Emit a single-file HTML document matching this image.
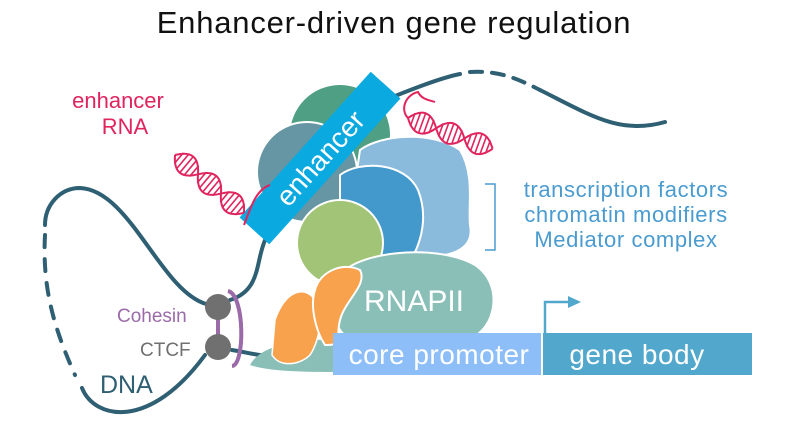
<!DOCTYPE html>
<html><head><style>
html,body{margin:0;padding:0;background:#fff;}
svg{display:block;font-family:"Liberation Sans",sans-serif;}
</style></head><body>
<svg width="787" height="439" viewBox="0 0 787 439" xmlns="http://www.w3.org/2000/svg">
<defs>
<g id="helix">
  <path d="M0,0 C10,-14 20,-14 30,0 S50,14 60,0 S80,-14 90,0" fill="none" stroke="#e0245e" stroke-width="2"/>
  <path d="M0,0 C10,14 20,14 30,0 S50,-14 60,0 S80,14 90,0" fill="none" stroke="#e0245e" stroke-width="2"/>
  <g stroke="#e0245e" stroke-width="1.6">
    <line x1="5" y1="-7" x2="5" y2="7"/><line x1="10" y1="-10" x2="10" y2="10"/><line x1="15" y1="-10.5" x2="15" y2="10.5"/><line x1="20" y1="-10" x2="20" y2="10"/><line x1="25" y1="-7" x2="25" y2="7"/>
    <line x1="35" y1="-7" x2="35" y2="7"/><line x1="40" y1="-10" x2="40" y2="10"/><line x1="45" y1="-10.5" x2="45" y2="10.5"/><line x1="50" y1="-10" x2="50" y2="10"/><line x1="55" y1="-7" x2="55" y2="7"/>
    <line x1="65" y1="-7" x2="65" y2="7"/><line x1="70" y1="-10" x2="70" y2="10"/><line x1="75" y1="-10.5" x2="75" y2="10.5"/><line x1="80" y1="-10" x2="80" y2="10"/><line x1="85" y1="-7" x2="85" y2="7"/>
  </g>
</g>
</defs>
<text x="394" y="33" font-size="31" letter-spacing="0.8" text-anchor="middle" fill="#111">Enhancer-driven gene regulation</text>

<!-- DNA -->
<g fill="none" stroke="#2e5f73" stroke-width="4" stroke-linecap="round">
  <path d="M385,100 C410,90 440,78 460,74"/>
  <path d="M470,72 C500,70 520,80 540,90" stroke-dasharray="12,10"/>
  <path d="M540,90 C590,115 620,135 665,122"/>
  <path d="M266,238 C255,260 262,290 230,300"/>
  <path d="M206,304 C160,290 130,190 80,188 C60,188 45,205 45,225"/>
  <path d="M45,235 C42,290 55,330 75,375" stroke-dasharray="12,12"/>
  <path d="M82,388 C95,420 150,430 205,355"/>
  <path d="M232,350 C245,352 255,355 268,356"/>
</g>

<!-- Cohesin/CTCF -->
<path d="M228,291 C245,295 245,365 232,366" fill="none" stroke="#9b6aa8" stroke-width="4"/>
<line x1="218" y1="318" x2="218" y2="336" stroke="#9b6aa8" stroke-width="4"/>
<circle cx="218" cy="307" r="13" fill="#707070"/>
<circle cx="218" cy="347" r="13" fill="#707070"/>
<text x="117" y="322" font-size="19" fill="#9b6aa8">Cohesin</text>
<text x="140" y="356" font-size="19" fill="#707070">CTCF</text>
<text x="100" y="393" font-size="25" fill="#2e5f73">DNA</text>

<!-- proteins -->
<circle cx="340" cy="135" r="50" fill="#4e9f84"/>
<circle cx="307" cy="172" r="50" fill="#6695a3" stroke="#fff" stroke-width="2"/>
<path d="M360,150 C380,135 430,130 460,150 C475,175 468,205 470,225 C475,250 450,258 420,256 L345,250 Z" fill="#8bbbdc" stroke="#fff" stroke-width="2"/>
<path d="M340,175 C360,160 405,162 418,190 C428,215 422,240 412,258 L340,258 Z" fill="#4399cc" stroke="#fff" stroke-width="2"/>
<circle cx="340" cy="243" r="43" fill="#a1c476" stroke="#fff" stroke-width="2"/>

<g transform="translate(320,158) rotate(-48)">
  <rect x="-98" y="-20" width="196" height="40" fill="#0aa9e0"/>
  <text x="0" y="10" font-size="28" fill="#fff" text-anchor="middle">enhancer</text>
</g>

<path d="M250,365 C260,345 300,338 340,340 L345,372 C310,372 270,372 250,365 Z" fill="#8abfb8"/>
<path d="M345,270 C370,250 440,245 475,265 C505,285 495,330 470,338 C440,345 400,338 375,342 C350,348 330,330 335,300 Z" fill="#8abfb8" stroke="#fff" stroke-width="2"/>
<text x="414" y="311" font-size="30" fill="#fff" text-anchor="middle">RNAPII</text>
<path d="M275,320 C285,290 305,285 315,300 C325,310 320,340 310,355 C300,365 280,368 272,355 Z" fill="#f9a24e" stroke="#fff" stroke-width="1.5"/>
<path d="M315,290 C320,270 345,262 360,270 C368,285 345,300 340,320 C335,340 345,345 325,345 C315,330 310,305 315,290 Z" fill="#f9a24e" stroke="#fff" stroke-width="2"/>

<!-- boxes -->
<rect x="333" y="333" width="208" height="42" fill="#8dbef8"/>
<rect x="543" y="333" width="209" height="42" fill="#52a7cc"/>
<text x="439" y="364" font-size="28" letter-spacing="0.5" fill="#fff" text-anchor="middle">core promoter</text>
<text x="637" y="364" font-size="28" letter-spacing="0.5" fill="#fff" text-anchor="middle">gene body</text>
<path d="M545,333 L545,302 L570,302" fill="none" stroke="#52a7cc" stroke-width="2.5"/>
<path d="M568,296 L581,302 L568,308 Z" fill="#52a7cc"/>

<!-- bracket + labels -->
<path d="M485,184 L495,184 L495,250 L485,250" fill="none" stroke="#4a9bcf" stroke-width="1.5"/>
<g font-size="22" letter-spacing="0.6" fill="#4a9bcf" text-anchor="middle">
<text x="626" y="197">transcription factors</text>
<text x="626" y="222">chromatin modifiers</text>
<text x="626" y="247">Mediator complex</text>
</g>

<!-- RNA -->
<text x="118" y="108" font-size="22" fill="#e0245e" text-anchor="middle">enhancer</text>
<text x="125" y="134" font-size="22" fill="#e0245e" text-anchor="middle">RNA</text>
<use href="#helix" transform="translate(175,155) rotate(40)"/>
<path d="M244,225 C250,210 255,190 270,185" fill="none" stroke="#e0245e" stroke-width="2"/>
<use href="#helix" transform="translate(408,118) rotate(20)"/>
<path d="M408,118 C400,110 405,95 418,92 C422,100 430,100 435,102" fill="none" stroke="#e0245e" stroke-width="2"/>
</svg>
</body></html>
